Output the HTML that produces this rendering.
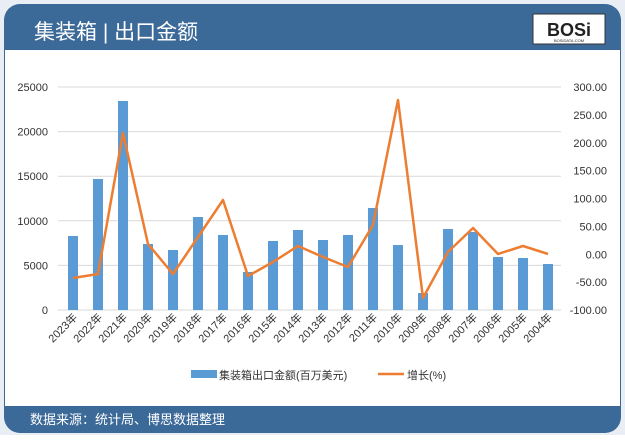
<!DOCTYPE html>
<html><head><meta charset="utf-8"><style>
body{margin:0;width:625px;height:435px;background:#fff;overflow:hidden;font-family:"Liberation Sans","Noto Sans CJK SC",sans-serif}
</style></head><body>
<svg width="625" height="435" xmlns="http://www.w3.org/2000/svg" font-family="Liberation Sans, Noto Sans CJK SC, sans-serif">
<rect x="0" y="0" width="625" height="435" fill="#e9eef4"/>
<rect x="4" y="4" width="617" height="429" rx="16" fill="#3b6998"/>
<rect x="5" y="50" width="615" height="356" fill="#fff"/>
<text x="34" y="39" font-size="21" fill="#fff">集装箱 | 出口金额</text>
<rect x="533" y="14" width="72" height="30" fill="#fff" stroke="#333" stroke-width="1"/>
<text x="569" y="36" font-size="18" font-weight="bold" text-anchor="middle" fill="#222">BOSi</text>
<text x="569" y="42" font-size="4" text-anchor="middle" fill="#222">BOSIDATA.COM</text>
<text x="30" y="424" font-size="13" fill="#fff">数据来源：统计局、博思数据整理</text>
<g stroke="#d9d9d9" stroke-width="1">
<line x1="58" x2="561" y1="87" y2="87"/><line x1="58" x2="561" y1="131.6" y2="131.6"/><line x1="58" x2="561" y1="176.2" y2="176.2"/><line x1="58" x2="561" y1="220.8" y2="220.8"/><line x1="58" x2="561" y1="265.4" y2="265.4"/><line x1="58" x2="561" y1="310" y2="310"/>
</g>
<g font-size="11" fill="#333" text-anchor="end">
<text x="48" y="91">25000</text><text x="48" y="135.6">20000</text><text x="48" y="180.2">15000</text><text x="48" y="224.8">10000</text><text x="48" y="269.4">5000</text><text x="48" y="314">0</text>
</g>
<g font-size="11" fill="#333" text-anchor="end">
<text x="607" y="91">300.00</text><text x="607" y="118.9">250.00</text><text x="607" y="146.8">200.00</text><text x="607" y="174.6">150.00</text><text x="607" y="202.5">100.00</text><text x="607" y="230.4">50.00</text><text x="607" y="258.3">0.00</text><text x="607" y="286.1">-50.00</text><text x="607" y="314">-100.00</text>
</g>
<g fill="#5b9bd5">
<rect x="68" y="236" width="10" height="74"/><rect x="93" y="179" width="10" height="131"/><rect x="118" y="101" width="10" height="209"/><rect x="143" y="244" width="10" height="66"/><rect x="168" y="250" width="10" height="60"/><rect x="193" y="217" width="10" height="93"/><rect x="218" y="235" width="10" height="75"/><rect x="243" y="272" width="10" height="38"/><rect x="268" y="241" width="10" height="69"/><rect x="293" y="230" width="10" height="80"/><rect x="318" y="240" width="10" height="70"/><rect x="343" y="235" width="10" height="75"/><rect x="368" y="208" width="10" height="102"/><rect x="393" y="245" width="10" height="65"/><rect x="418" y="293" width="10" height="17"/><rect x="443" y="229" width="10" height="81"/><rect x="468" y="232" width="10" height="78"/><rect x="493" y="257" width="10" height="53"/><rect x="518" y="258" width="10" height="52"/><rect x="543" y="264" width="10" height="46"/>
</g>
<polyline fill="none" stroke="#ed7d31" stroke-width="2.5" stroke-linejoin="round" points="73,278 98,274 123,133 148,244 173,274 198,237 223,200 248,276 273,262 298,246 323,257 348,267 373,225 398,100 423,298 448,252 473,228 498,254 523,246 548,254"/>
<g font-size="11" fill="#333" text-anchor="end">
<text transform="translate(78,318) rotate(-45)">2023年</text><text transform="translate(103,318) rotate(-45)">2022年</text><text transform="translate(128,318) rotate(-45)">2021年</text><text transform="translate(153,318) rotate(-45)">2020年</text><text transform="translate(178,318) rotate(-45)">2019年</text><text transform="translate(203,318) rotate(-45)">2018年</text><text transform="translate(228,318) rotate(-45)">2017年</text><text transform="translate(253,318) rotate(-45)">2016年</text><text transform="translate(278,318) rotate(-45)">2015年</text><text transform="translate(303,318) rotate(-45)">2014年</text><text transform="translate(328,318) rotate(-45)">2013年</text><text transform="translate(353,318) rotate(-45)">2012年</text><text transform="translate(378,318) rotate(-45)">2011年</text><text transform="translate(403,318) rotate(-45)">2010年</text><text transform="translate(428,318) rotate(-45)">2009年</text><text transform="translate(453,318) rotate(-45)">2008年</text><text transform="translate(478,318) rotate(-45)">2007年</text><text transform="translate(503,318) rotate(-45)">2006年</text><text transform="translate(528,318) rotate(-45)">2005年</text><text transform="translate(553,318) rotate(-45)">2004年</text>
</g>
<rect x="191" y="370" width="26" height="8" fill="#5b9bd5"/>
<text x="219" y="379" font-size="11" fill="#333">集装箱出口金额(百万美元)</text>
<line x1="378" x2="404" y1="374" y2="374" stroke="#ed7d31" stroke-width="2.5"/>
<text x="407" y="379" font-size="11" fill="#333">增长(%)</text>
</svg>
</body></html>
